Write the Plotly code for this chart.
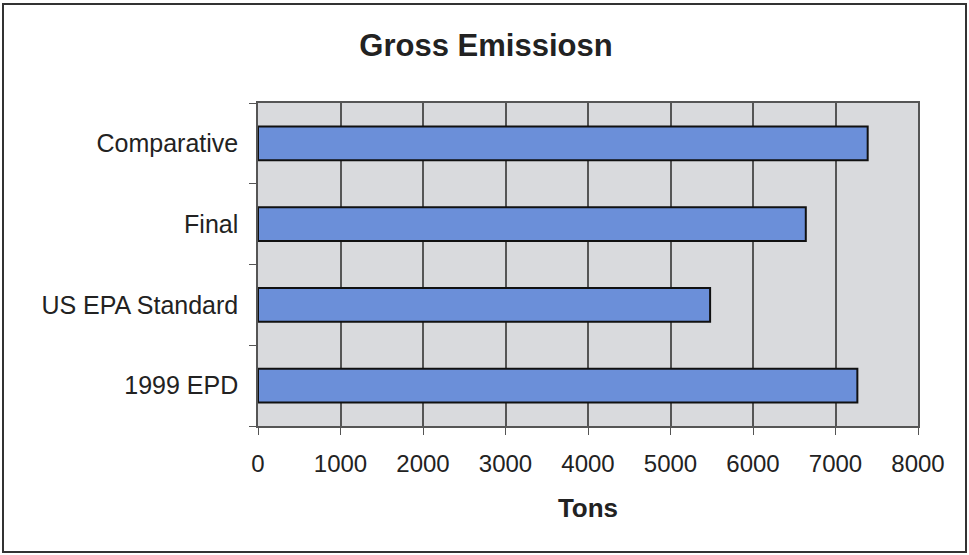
import plotly.graph_objects as go

categories = ["1999 EPD", "US EPA Standard", "Final", "Comparative"]
values = [7265, 5480, 6640, 7390]
x_ticks = [0, 1000, 2000, 3000, 4000, 5000, 6000, 7000, 8000]

W, H = 969, 555
L, R, T, B = 258, 51, 103, 129

fig = go.Figure(go.Bar(
    y=categories, x=values, orientation="h",
    marker=dict(color="#6b8fd9", line=dict(color="#111111", width=2)),
    width=0.42,
))

fig.update_layout(
    width=W, height=H,
    margin=dict(l=L, r=R, t=T, b=B),
    paper_bgcolor="white",
    plot_bgcolor="#d9dadd",
    showlegend=False,
    font=dict(family="Liberation Sans, Arial, sans-serif", color="#222222"),
    title=dict(text="<b>Gross Emissiosn</b>", x=486 / W, xanchor="center",
               y=1 - 45 / H, yanchor="middle", font=dict(size=31, color="#222222")),
    xaxis=dict(
        range=[0, 8000], tickvals=x_ticks, ticktext=[str(v) for v in x_ticks],
        showgrid=True, gridcolor="#555555", gridwidth=1.5,
        showline=True, linecolor="#555555", linewidth=1.5, mirror=True,
        ticks="outside", ticklen=7, tickcolor="#555555",
        tickfont=dict(size=24), zeroline=False, ticklabelstandoff=8,
        title=dict(text="<b>Tons</b>", font=dict(size=26), standoff=23),
    ),
    yaxis=dict(
        categoryorder="array", categoryarray=categories,
        range=[-0.5, 3.5],
        showgrid=False,
        showline=True, linecolor="#555555", linewidth=1.5, mirror=True,
        ticks="outside", tickson="boundaries", ticklen=7, tickcolor="#555555",
        tickfont=dict(size=25), ticklabelstandoff=13,
    ),
)

# outer frame around the whole chart
pw, ph = W - L - R, H - T - B
x0 = (3 - L) / pw
x1 = (966 - L) / pw
y0 = -(552 - (H - B)) / ph
y1 = 1 + (T - 4) / ph
fig.add_shape(type="rect", xref="paper", yref="paper", x0=x0, x1=x1, y0=y0, y1=y1,
              line=dict(color="#333333", width=2), layer="above")

fig.write_html("out.html", config={"displayModeBar": False},
               post_script="document.body.style.margin='0px';")
